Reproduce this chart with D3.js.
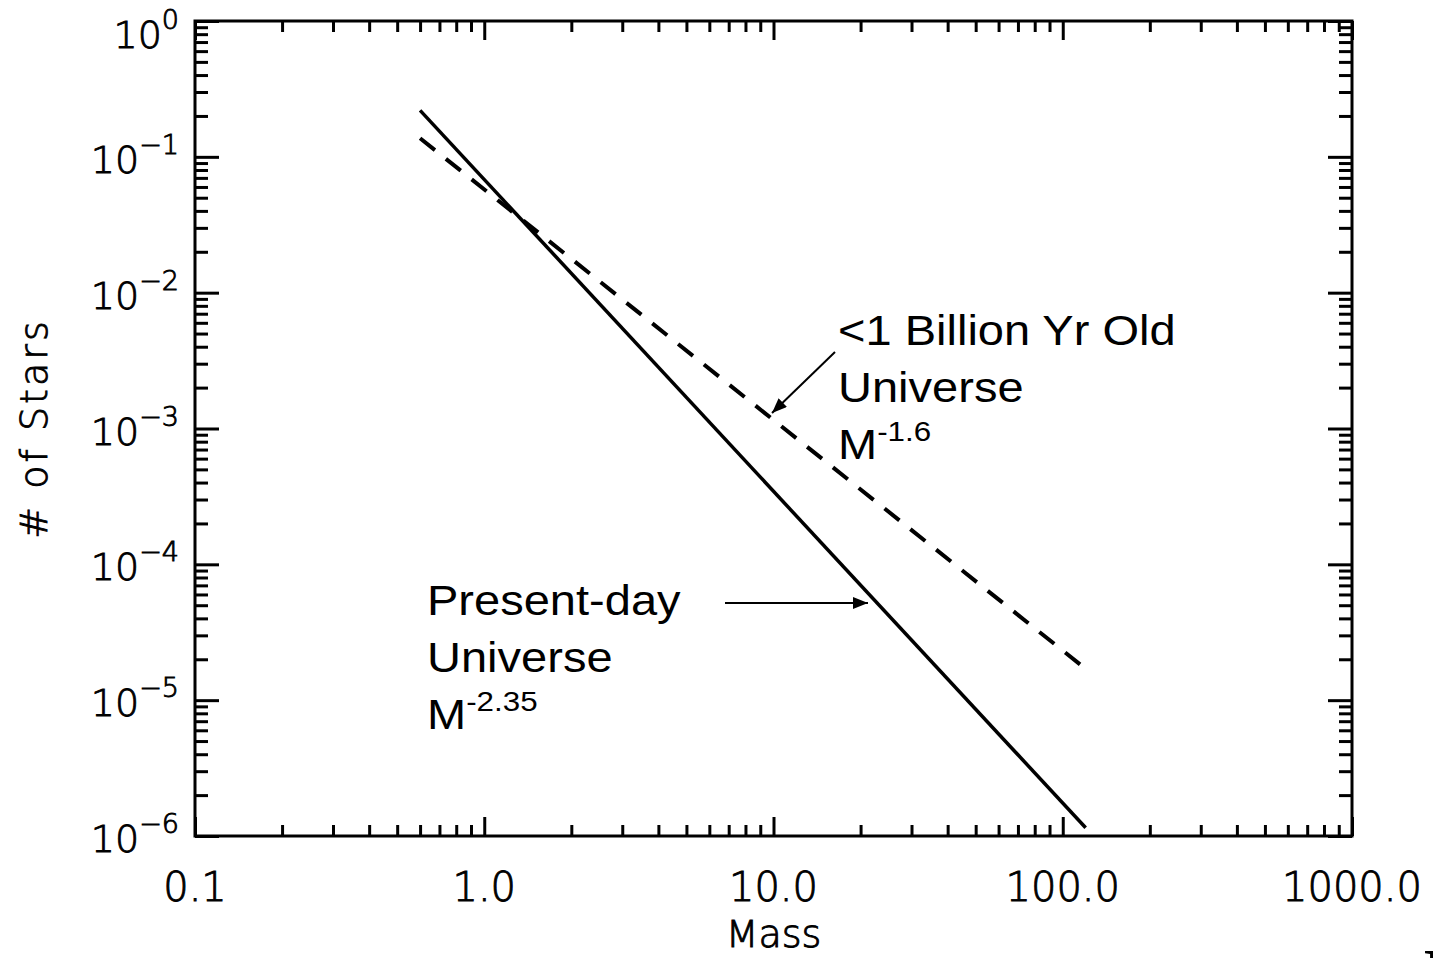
<!DOCTYPE html>
<html>
<head>
<meta charset="utf-8">
<script src="https://cdn.jsdelivr.net/npm/d3@7"></script>
<style>
  body { margin: 0; background: #fff; }
  .axis path, .axis line { stroke: #000; stroke-width: 3; }
  .ticklabel { font-family: "DejaVu Sans", sans-serif; font-weight: 200; font-size: 40px; fill: #000; stroke: #000; stroke-width: 0.9px; }
  .note { font-family: "Liberation Sans", Arial, sans-serif; font-size: 42px; fill: #000; }
</style>
</head>
<body>
<div id="chart"></div>
<script>
var width = 1433
var height = 958
var margin = {top: 21, right: 81, bottom: 122, left: 195}

// tick values and labels
var xMajor = [0.1, 1, 10, 100, 1000]
var xLabels = ["0.1", "1.0", "10.0", "100.0", "1000.0"]
var yMajor = [1, 1e-1, 1e-2, 1e-3, 1e-4, 1e-5, 1e-6]
var yExponents = ["0", "\u22121", "\u22122", "\u22123", "\u22124", "\u22125", "\u22126"]

// line end points (straight lines in log-log)
var massRange = [0.6, 120]
var presentDay = [0.22, 1.15e-6]     // M^-2.35
var earlyUniverse = [0.137, 1.7e-5]  // M^-1.6

var svg = d3.select('#chart')
  .append('svg')
  .attr('width', width)
  .attr('height', height)

var defs = svg.append('defs')
defs.append('marker')
  .attr('id', 'arrow')
  .attr('viewBox', '0 0 10 8')
  .attr('refX', 10).attr('refY', 4)
  .attr('markerWidth', 7.5).attr('markerHeight', 6)
  .attr('markerUnits', 'strokeWidth')
  .attr('orient', 'auto')
  .append('path')
  .attr('d', 'M0,0 L10,4 L0,8 z')
  .attr('fill', '#000')

var x = d3.scaleLog().domain([0.1, 1000]).range([margin.left, width - margin.right])
var y = d3.scaleLog().domain([1e-6, 1]).range([height - margin.bottom, margin.top])

var xMinor = x.ticks().filter(function(d) { return xMajor.indexOf(d) < 0 })
var yMinor = y.ticks().filter(function(d) { return yMajor.indexOf(d) < 0 })

var x0 = x.range()[0], x1 = x.range()[1]
var y0 = y.range()[1], y1 = y.range()[0]

// ticks, all pointing inward, on the four sides
function addTicks(axisFn, scale, values, size, transform) {
  svg.append('g')
    .attr('class', 'axis')
    .attr('transform', transform)
    .call(axisFn(scale).tickValues(values).tickSize(size).tickFormat(''))
    .call(function(g) { g.select('.domain').remove() })
}
addTicks(d3.axisTop, x, xMajor, 19, 'translate(0,' + y1 + ')')
addTicks(d3.axisTop, x, xMinor, 11, 'translate(0,' + y1 + ')')
addTicks(d3.axisBottom, x, xMajor, 19, 'translate(0,' + y0 + ')')
addTicks(d3.axisBottom, x, xMinor, 11, 'translate(0,' + y0 + ')')
addTicks(d3.axisRight, y, yMajor, 24, 'translate(' + x0 + ',0)')
addTicks(d3.axisRight, y, yMinor, 13, 'translate(' + x0 + ',0)')
addTicks(d3.axisLeft, y, yMajor, 24, 'translate(' + x1 + ',0)')
addTicks(d3.axisLeft, y, yMinor, 13, 'translate(' + x1 + ',0)')

// frame
svg.append('rect')
  .attr('x', x0).attr('y', y0)
  .attr('width', x1 - x0).attr('height', y1 - y0)
  .attr('fill', 'none').attr('stroke', '#000').attr('stroke-width', 3)

// x tick labels
svg.selectAll('.xlab')
  .data(xMajor)
  .enter().append('text')
  .attr('class', 'ticklabel')
  .attr('x', function(d) { return x(d) })
  .attr('y', y1 + 65)
  .attr('text-anchor', 'middle')
  .text(function(d, i) { return xLabels[i] })

// y tick labels: 10 with a raised exponent (top one kept inside the page)
var ylab = svg.selectAll('.ylab')
  .data(yMajor)
  .enter().append('text')
  .attr('class', 'ticklabel')
  .attr('text-anchor', 'end')
  .attr('x', x0 - 16)
  .attr('y', function(d, i) { return y(d) + (i == 0 ? 27 : 16) })
  .style('font-size', '38px')
ylab.append('tspan').text('10')
ylab.append('tspan')
  .attr('dy', -19)
  .style('font-size', '27px')
  .text(function(d, i) { return yExponents[i] })

// axis titles
svg.append('text')
  .attr('class', 'ticklabel')
  .attr('x', (x0 + x1) / 2)
  .attr('y', 947)
  .attr('text-anchor', 'middle')
  .style('font-size', '38px')
  .text('Mass')

svg.append('text')
  .attr('class', 'ticklabel')
  .attr('transform', 'translate(47,' + ((y0 + y1) / 2) + ') rotate(-90)')
  .attr('text-anchor', 'middle')
  .style('font-size', '38px')
  .style('letter-spacing', '3px')
  .text('# of Stars')

// the two power laws
var line = d3.line()
  .x(function(d) { return x(d[0]) })
  .y(function(d) { return y(d[1]) })

svg.append('path')
  .datum(d3.zip(massRange, presentDay))
  .attr('d', line)
  .attr('fill', 'none')
  .attr('stroke', '#000')
  .attr('stroke-width', 3.5)

svg.append('path')
  .datum(d3.zip(massRange, earlyUniverse))
  .attr('d', line)
  .attr('fill', 'none')
  .attr('stroke', '#000')
  .attr('stroke-width', 4)
  .attr('stroke-dasharray', '19,14')

// annotations
function note(lines, px, py) {
  var g = svg.append('g').attr('transform', 'translate(' + px + ',' + py + ') scale(1.12,1)')
  lines.forEach(function(l, i) {
    var t = g.append('text').attr('class', 'note').attr('y', i * 57)
    t.append('tspan').text(l[0])
    if (l[1]) {
      t.append('tspan').attr('dy', -18).style('font-size', '28px').text(l[1])
    }
  })
}
note([['<1 Billion Yr Old'], ['Universe'], ['M', '-1.6']], 838, 345)
note([['Present-day'], ['Universe'], ['M', '-2.35']], 427, 615)

svg.append('line')
  .attr('x1', 835).attr('y1', 352)
  .attr('x2', 772).attr('y2', 413)
  .attr('stroke', '#000').attr('stroke-width', 2)
  .attr('marker-end', 'url(#arrow)')

svg.append('line')
  .attr('x1', 725).attr('y1', 603)
  .attr('x2', 868).attr('y2', 603)
  .attr('stroke', '#000').attr('stroke-width', 2)
  .attr('marker-end', 'url(#arrow)')

// clipped glyph at the bottom right corner of the original
svg.append('text')
  .attr('x', 1423).attr('y', 990)
  .style('font-family', '"Liberation Serif", serif')
  .style('font-weight', 'bold')
  .style('font-size', '60px')
  .text('I')
</script>
</body>
</html>
